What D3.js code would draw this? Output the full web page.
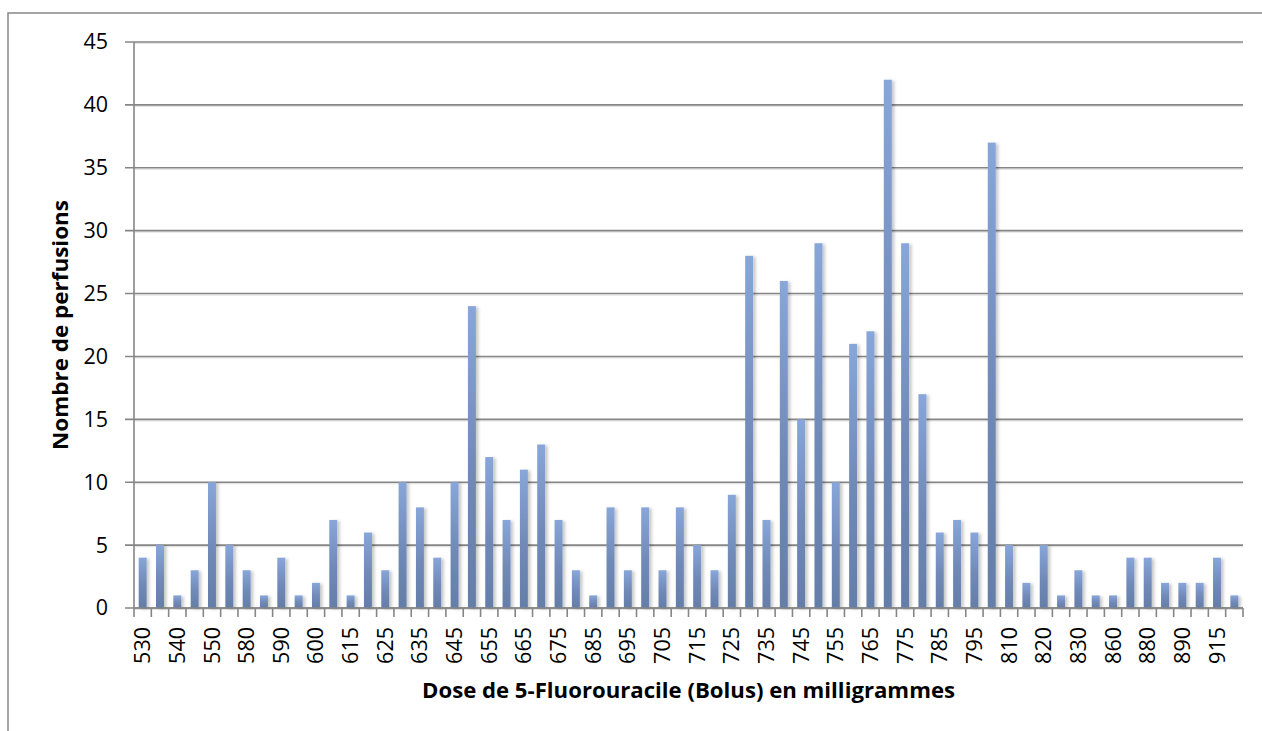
<!DOCTYPE html>
<html>
<head>
<meta charset="utf-8">
<script src="https://cdn.jsdelivr.net/npm/d3@7/dist/d3.min.js"></script>
<style>
  html, body { margin: 0; padding: 0; background: #fff; }
  svg { display: block; }
  text { font-family: "Open Sans", "Noto Sans", sans-serif; fill: #000; }
</style>
</head>
<body>
<svg id="chart" width="1262" height="731"></svg>
<script>
const categories = ["530","535","540","545","550","560","580","585","590","595",
  "600","610","615","620","625","630","635","640","645","650",
  "655","660","665","670","675","680","685","690","695","700",
  "705","710","715","720","725","730","735","740","745","750",
  "755","760","765","770","775","780","785","790","795","800",
  "810","815","820","825","830","840","860","870","880","885",
  "890","900","915","920"];
const values = [4,5,1,3,10,5,3,1,4,1,
  2,7,1,6,3,10,8,4,10,24,
  12,7,11,13,7,3,1,8,3,8,
  3,8,5,3,9,28,7,26,15,29,
  10,21,22,42,29,17,6,7,6,37,
  5,2,5,1,3,1,1,4,4,2,
  2,2,4,1];
const yTicks = [0,5,10,15,20,25,30,35,40,45];
const xTitle = "Dose de 5-Fluorouracile (Bolus) en milligrammes";
const yTitle = "Nombre de perfusions";

(function () {
const svg = d3.select("#chart");
const mL = 134, mR = 1243, mT = 42, mB = 608;
const gray = "#868686";

// outer chart border
svg.append("rect").attr("x", 8).attr("y", 13).attr("width", 1280).attr("height", 740)
  .attr("fill", "none").attr("stroke", gray).attr("stroke-width", 1.5);

const defs = svg.append("defs");
const grad = defs.append("linearGradient").attr("id", "barGrad")
  .attr("x1", 0).attr("y1", 0).attr("x2", 0).attr("y2", 1);
grad.append("stop").attr("offset", "0%").attr("stop-color", "#88a6d9");
grad.append("stop").attr("offset", "55%").attr("stop-color", "#7089b7");
grad.append("stop").attr("offset", "100%").attr("stop-color", "#647ea8");
const f = defs.append("filter").attr("id", "shadow").attr("x", "-50%").attr("y", "-10%")
  .attr("width", "220%").attr("height", "120%");
f.append("feDropShadow").attr("dx", 2.5).attr("dy", 1).attr("stdDeviation", 1.6)
  .attr("flood-color", "#000").attr("flood-opacity", 0.22);

const x = d3.scaleBand().domain(d3.range(categories.length)).range([mL, mR])
  .paddingInner(0.54).paddingOuter(0.27);
const y = d3.scaleLinear().domain([0, 45]).range([mB, mT]);

// gridlines
const grid = svg.append("g");
grid.selectAll("line.sh").data(yTicks).join("line").attr("class", "sh")
  .attr("x1", mL).attr("x2", mR)
  .attr("y1", d => y(d) + 1.5).attr("y2", d => y(d) + 1.5)
  .attr("stroke", "#e4e4e4").attr("stroke-width", 1.2);
grid.selectAll("line.g").data(yTicks).join("line").attr("class", "g")
  .attr("x1", mL - 9).attr("x2", mR)
  .attr("y1", d => y(d)).attr("y2", d => y(d))
  .attr("stroke", gray).attr("stroke-width", 1.6);

// y-axis labels
const yAxis = d3.axisLeft(y).tickValues(yTicks).tickSize(0).tickPadding(26);
const yg = svg.append("g").attr("transform", `translate(${mL},0)`).call(yAxis);
yg.select(".domain").remove();
yg.selectAll("text").style("font-size", "21.5px").style("font-family", "'Open Sans', sans-serif").attr("fill", "#000");

// bars
svg.append("g").selectAll("rect").data(values).join("rect")
  .attr("x", (d, i) => x(i))
  .attr("y", d => y(d))
  .attr("width", x.bandwidth())
  .attr("height", d => y(0) - y(d))
  .attr("fill", "url(#barGrad)")
  .attr("filter", "url(#shadow)");

// y axis line
svg.append("line").attr("x1", mL).attr("x2", mL).attr("y1", mT).attr("y2", mB)
  .attr("stroke", gray).attr("stroke-width", 1.6);
// x axis line
svg.append("line").attr("x1", mL).attr("x2", mR).attr("y1", mB).attr("y2", mB)
  .attr("stroke", gray).attr("stroke-width", 1.6);

// x ticks at category boundaries
const bounds = d3.range(categories.length + 1).map(i => mL + i * x.step());
svg.append("g").selectAll("line").data(bounds).join("line")
  .attr("x1", d => d).attr("x2", d => d).attr("y1", mB).attr("y2", mB + 9)
  .attr("stroke", gray).attr("stroke-width", 1.6);

// x labels (every other category)
const xAxis = d3.axisBottom(x).tickSize(0).tickPadding(0)
  .tickFormat(i => (i % 2 === 0 ? categories[i] : ""));
const xg = svg.append("g").attr("transform", `translate(0,${mB})`).call(xAxis);
xg.select(".domain").remove();
xg.selectAll("text")
  .style("font-size", "21.5px").style("font-family", "'Open Sans', sans-serif").attr("fill", "#000")
  .attr("transform", "rotate(-90)")
  .attr("x", -19).attr("y", 0).attr("dy", "0.35em")
  .attr("text-anchor", "end");

// axis titles
svg.append("text").attr("x", (mL + mR) / 2).attr("y", 698)
  .attr("text-anchor", "middle").attr("font-weight", "bold").style("font-size", "21px")
  .attr("textLength", 533).attr("lengthAdjust", "spacingAndGlyphs")
  .text(xTitle);
svg.append("text").attr("transform", `translate(68,${(mT + mB) / 2}) rotate(-90)`)
  .attr("text-anchor", "middle").attr("font-weight", "bold").style("font-size", "21px")
  .attr("textLength", 250).attr("lengthAdjust", "spacingAndGlyphs")
  .text(yTitle);
})();
</script>
</body>
</html>
